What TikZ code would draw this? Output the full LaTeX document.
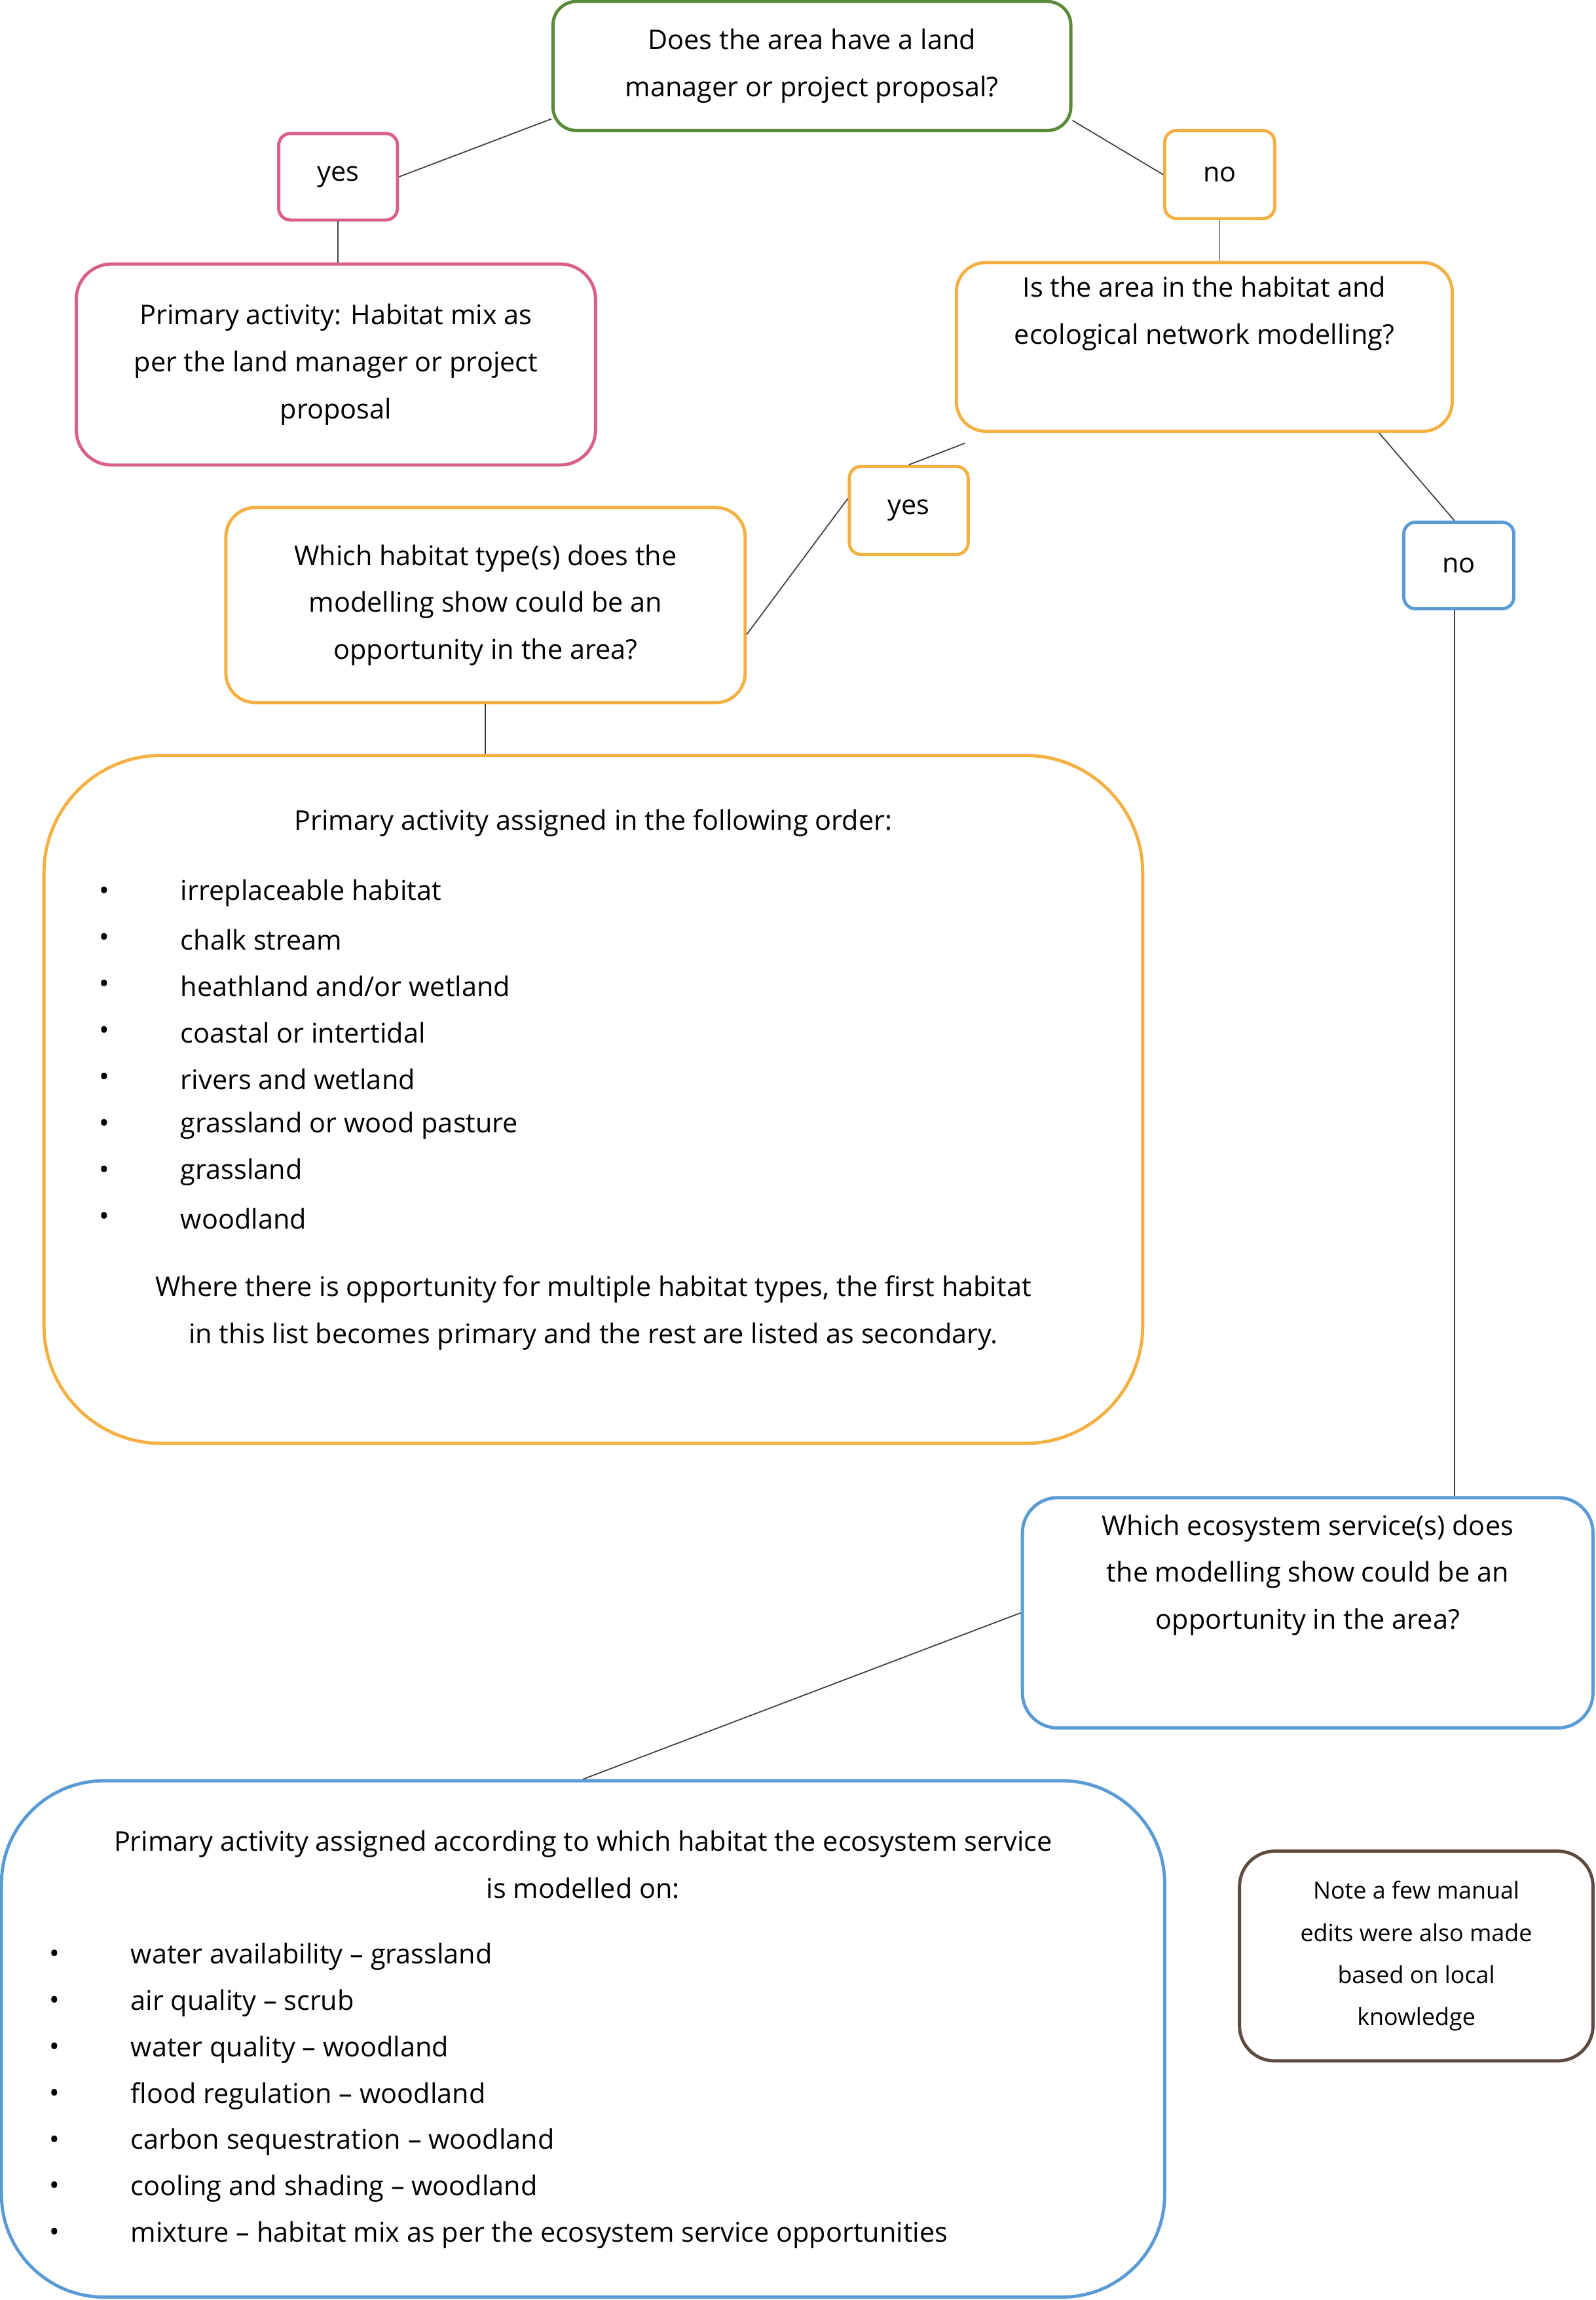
\documentclass[tikz,border=0pt]{standalone}
\usepackage{fontspec}
\setmainfont{Open Sans}
\definecolor{cg}{HTML}{5A8A3A}
\definecolor{cp}{HTML}{D9608A}
\definecolor{co}{HTML}{F4B042}
\definecolor{cb}{HTML}{5B9BD5}
\definecolor{cbr}{HTML}{5E4A3F}
\begin{document}
\begin{tikzpicture}[x=1pt,y=-1pt,
  box/.style={draw=#1,line width=2.2pt,rounded corners=16pt,inner sep=0pt,align=center,
    font=\fontsize{18.5}{32}\selectfont},
  txt/.style={inner sep=0pt,font=\fontsize{18.5}{32}\selectfont},
  con/.style={draw=black!75,line width=0.8pt}]
\useasboundingbox (0,0) rectangle (1088,1568);
\node[box=cg,minimum width=353pt,minimum height=88pt] (top) at (553.5,45) {Does the area have a land\\manager or project proposal?};
\node[box=cp,rounded corners=8pt,minimum width=81pt,minimum height=59pt] (yes1) at (230.5,120.5) {yes};
\node[box=cp,rounded corners=24pt,minimum width=354pt,minimum height=137pt] (pa1) at (229,248.5) {Primary activity: Habitat mix as\\per the land manager or project\\proposal};
\node[box=co,rounded corners=8pt,minimum width=75pt,minimum height=60pt] (no1) at (831.5,119) {no};
\node[box=co,rounded corners=20pt,minimum width=338pt,minimum height=115pt] (q2) at (821,236.5) {Is the area in the habitat and\\ecological network modelling?\\[18pt]};
\node[box=co,rounded corners=8pt,minimum width=81pt,minimum height=60pt] (yes2) at (619.5,348) {yes};
\node[box=co,rounded corners=20pt,minimum width=354pt,minimum height=133pt] (q3) at (331,412.5) {Which habitat type(s) does the\\modelling show could be an\\opportunity in the area?};
\node[box=cb,rounded corners=8pt,minimum width=75pt,minimum height=59pt] (no2) at (994.5,385.5) {no};
\node[box=co,rounded corners=80pt,minimum width=749pt,minimum height=469pt] (big1) at (404.5,749.5) {};
\node[box=cb,rounded corners=24pt,minimum width=389pt,minimum height=157pt] (q4) at (891.5,1099.5) {Which ecosystem service(s) does\\the modelling show could be an\\opportunity in the area?\\[24pt]};
\node[box=cb,rounded corners=70pt,minimum width=793pt,minimum height=352pt] (big2) at (397.5,1390) {};
\node[box=cbr,rounded corners=24pt,minimum width=241pt,minimum height=143pt,font=\fontsize{16}{28.7}\selectfont] (note) at (965.5,1333.5) {Note a few manual\\edits were also made\\based on local\\knowledge};
% text in big1
\node[txt] (h1) at (404.5,561) {Primary activity assigned in the following order:};
\foreach \t [count=\i] in {irreplaceable habitat,chalk stream,heathland and/or wetland,coastal or intertidal,rivers and wetland,grassland or wood pasture,grassland,woodland}{
  \node[txt] (b1\i) at (71,{609+(\i-1)*31.7}) {•};
  \node[txt,anchor=west] (t1\i) at (123,{609+(\i-1)*31.7}) {\t};
}
\node[txt,align=center] (f1) at (404.5,895) {Where there is opportunity for multiple habitat types, the first habitat\\in this list becomes primary and the rest are listed as secondary.};
% text in big2
\node[txt,align=center] (h2) at (397.5,1271) {Primary activity assigned according to which habitat the ecosystem service\\is modelled on:};
\foreach \t [count=\i] in {water availability – grassland,air quality – scrub,water quality – woodland,flood regulation – woodland,carbon sequestration – woodland,cooling and shading – woodland,mixture – habitat mix as per the ecosystem service opportunities}{
  \node[txt] (b2\i) at (37,{1334+(\i-1)*31.6}) {•};
  \node[txt,anchor=west] (t2\i) at (89,{1334+(\i-1)*31.6}) {\t};
}
% connectors
\draw[con] ([yshift=9pt]top.south west) -- (yes1.east);
\draw[con] (yes1.south) -- (pa1.north -| yes1.south);
\draw[con] ([yshift=8pt]top.south east) -- (no1.west);
\draw[con] (no1.south) -- (q2.north -| no1.south);
\draw[con] ([xshift=7pt,yshift=-7pt]q2.south west) -- (yes2.north);
\draw[con] ([yshift=8pt]yes2.west) -- ([yshift=-20pt]q3.east);
\draw[con] (q3.south) -- (big1.north -| q3.south);
\draw[con] ([xshift=-51pt]q2.south east) -- ([xshift=-3pt]no2.north);
\draw[con] ([xshift=-3pt]no2.south) -- ([xshift=-3pt]no2.south |- q4.north);
\draw[con] (q4.west) -- (big2.north);
\end{tikzpicture}
\end{document}
